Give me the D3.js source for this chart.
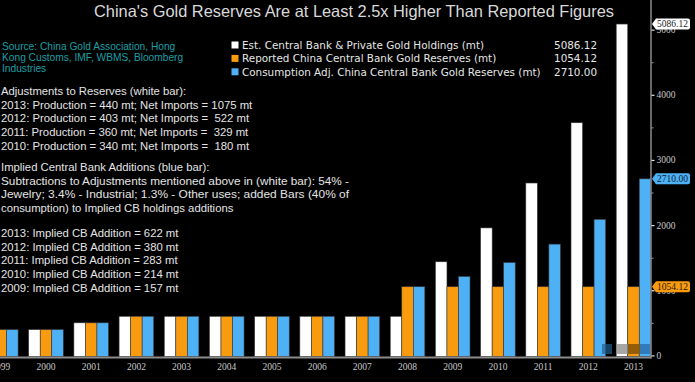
<!DOCTYPE html>
<html>
<head>
<meta charset="utf-8">
<script src="https://cdn.jsdelivr.net/npm/d3@7"></script>
<style>
  html, body { margin: 0; padding: 0; background: #000; }
  svg { display: block; }
  text { white-space: pre; }
</style>
</head>
<body>
<svg id="chart" width="695" height="382"></svg>
<script>
// ---------- DATA ----------
const years = ["1999","2000","2001","2002","2003","2004","2005","2006","2007","2008","2009","2010","2011","2012","2013"];
const estHoldings    = [395, 395, 500, 600, 600, 600, 600, 600, 600, 600, 1437, 1957, 2646, 3571, 5086.12];
const reportedRes    = [395, 395, 500, 600, 600, 600, 600, 600, 600, 1054.12, 1054.12, 1054.12, 1054.12, 1054.12, 1054.12];
const consumptionAdj = [395, 395, 500, 600, 600, 600, 600, 600, 600, 1054.12, 1211, 1425, 1708, 2088, 2710.00];
const seriesKeys   = ["est", "rep", "adj"];
const seriesNames  = ["Est. Central Bank & Private Gold Holdings (mt)",
                      "Reported China Central Bank Gold Reserves (mt)",
                      "Consumption Adj. China Central Bank Gold Reserves (mt)"];
const seriesLast   = ["5086.12", "1054.12", "2710.00"];
const yTicks = [0, 1000, 2000, 3000, 4000, 5000];
const yMinorTicks = [500, 1500, 2500, 3500, 4500];
const titleText = "China's Gold Reserves Are at Least 2.5x Higher Than Reported Figures";
const sourceLines = ["Source: China Gold Association, Hong", "Kong Customs, IMF, WBMS, Bloomberg", "Industries"];
const noteBlock1 = ["Adjustments to Reserves (white bar):",
  "2013: Production = 440 mt; Net Imports = 1075 mt",
  "2012: Production = 403 mt; Net Imports =  522 mt",
  "2011: Production = 360 mt; Net Imports =  329 mt",
  "2010: Production = 340 mt; Net Imports =  180 mt"];
const noteBlock2 = ["Implied Central Bank Additions (blue bar):",
  "Subtractions to Adjustments mentioned above in (white bar): 54% -",
  "Jewelry; 3.4% - Industrial; 1.3% - Other uses; added Bars (40% of",
  "consumption) to Implied CB holdings additions"];
const noteBlock3 = ["2013: Implied CB Addition = 622 mt",
  "2012: Implied CB Addition = 380 mt",
  "2011: Implied CB Addition = 283 mt",
  "2010: Implied CB Addition = 214 mt",
  "2009: Implied CB Addition = 157 mt"];

// ---------- STYLE ----------
const colors = { est: "#ffffff", rep: "#f89b0e", adj: "#4eb1f6" };
const tagText = { est: "#222", rep: "#2a1a00", adj: "#0a2035" };
const svg = d3.select("#chart");
svg.append("rect").attr("width", 695).attr("height", 382).attr("fill", "#000");

const rows = years.map((yr, i) => ({ year: yr, est: estHoldings[i], rep: reportedRes[i], adj: consumptionAdj[i] }));

// ---------- SCALES ----------
const axisX = 651;
const x = d3.scaleBand().domain(years).range([-21.8, 656.1]).padding(0);
const xs = d3.scaleBand().domain(seriesKeys).range([5.3, x.bandwidth() - 5.3]).padding(0);
const y = d3.scaleLinear().domain([0, 5000]).range([355.4, 29.65]);

// ---------- BARS ----------
const g = svg.append("g");
const groups = g.selectAll("g.grp").data(rows).join("g")
  .attr("class", "grp")
  .attr("transform", d => `translate(${x(d.year)},0)`);
groups.selectAll("rect").data(d => seriesKeys.map(k => ({ k, v: d[k] }))).join("rect")
  .attr("x", d => xs(d.k))
  .attr("width", xs.bandwidth())
  .attr("y", d => y(d.v))
  .attr("height", d => y(0) - y(d.v) + 1)
  .attr("fill", d => colors[d.k])
  .attr("stroke", "#3a3a3a")
  .attr("stroke-width", 0.6);

// bottom-right toolbar overlay (Bloomberg widgets)
const tb = svg.append("g");
tb.append("rect").attr("x", 602).attr("y", 344).attr("width", 10).attr("height", 10).attr("fill", "#1f5f8f").attr("opacity", 0.7);
tb.append("rect").attr("x", 616).attr("y", 344).attr("width", 12).attr("height", 10).attr("fill", "#8a8a8a").attr("opacity", 0.75);
tb.append("rect").attr("x", 628).attr("y", 344).attr("width", 12).attr("height", 10).attr("fill", "#8a5608").attr("opacity", 0.9);
tb.append("rect").attr("x", 640).attr("y", 344).attr("width", 10).attr("height", 10).attr("fill", "#2c75b5").attr("opacity", 0.9);

// ---------- AXES ----------
const xAxis = d3.axisBottom(x).tickSize(0).tickPadding(6);
const gx = svg.append("g").attr("transform", `translate(0,${357.5})`).call(xAxis);
gx.select(".domain").remove();
gx.selectAll("text").attr("fill", "#c8c8c8").attr("font-family", "Liberation Serif, serif").attr("font-size", 9.5);
svg.append("line").attr("x1", 0).attr("x2", axisX).attr("y1", 357.5).attr("y2", 357.5)
  .attr("stroke", "#8c8c8c").attr("stroke-width", 2);

svg.append("line").attr("x1", axisX).attr("x2", axisX).attr("y1", 0).attr("y2", 358.5)
  .attr("stroke", "#8c8c8c").attr("stroke-width", 1.5);
const yAxis = d3.axisRight(y).tickValues(yTicks).tickSize(3).tickPadding(2).tickFormat(d3.format("d"));
const gy = svg.append("g").attr("transform", `translate(${axisX + 0.5},0)`).call(yAxis);
gy.select(".domain").remove();
gy.selectAll("line").attr("stroke", "#e0e0e0").attr("stroke-width", 1.2);
gy.selectAll("text").attr("fill", "#c8c8c8").attr("font-family", "Liberation Serif, serif").attr("font-size", 9.5);
const yMinor = d3.axisRight(y).tickValues(yMinorTicks).tickSize(2).tickFormat("");
const gym = svg.append("g").attr("transform", `translate(${axisX + 0.5},0)`).call(yMinor);
gym.select(".domain").remove();
gym.selectAll("line").attr("stroke", "#9a9a9a");

// ---------- VALUE TAGS ----------
const tags = svg.append("g");
seriesKeys.forEach((k, i) => {
  const yc = y(+seriesLast[i]);
  const x0 = axisX + 1, w = 36, h = 11;
  const p = `M${x0},${yc} L${x0 + 4},${yc - h / 2} L${x0 + w},${yc - h / 2} Q${x0 + w + 2},${yc - h / 2} ${x0 + w + 2},${yc - h / 2 + 2} L${x0 + w + 2},${yc + h / 2 - 2} Q${x0 + w + 2},${yc + h / 2} ${x0 + w},${yc + h / 2} L${x0 + 4},${yc + h / 2} Z`;
  tags.append("path").attr("d", p).attr("fill", colors[k]);
  tags.append("text").attr("x", x0 + 5).attr("y", yc + 3.3)
    .attr("font-family", "Liberation Serif, serif").attr("font-size", 9.5)
    .attr("fill", tagText[k]).text(seriesLast[i]);
});

// ---------- TITLE ----------
svg.append("text").attr("x", 354).attr("y", 17).attr("text-anchor", "middle")
  .attr("font-family", "Liberation Sans, Arial, sans-serif").attr("font-size", 16.5)
  .attr("fill", "#d9d9d9").attr("textLength", 520).attr("lengthAdjust", "spacingAndGlyphs")
  .text(titleText);

// ---------- LEGEND ----------
const lg = svg.append("g");
seriesKeys.forEach((k, i) => {
  const yc = 45 + i * 13.4;
  lg.append("rect").attr("x", 231.5).attr("y", yc - 3.5).attr("width", 7).attr("height", 7).attr("fill", colors[k]);
  lg.append("text").attr("x", 242).attr("y", yc + 3.8)
    .attr("font-family", "DejaVu Sans, Verdana, sans-serif").attr("font-size", 10.4)
    .attr("fill", "#e6e6e6").text(seriesNames[i]);
  lg.append("text").attr("x", 597).attr("y", yc + 3.8).attr("text-anchor", "end")
    .attr("font-family", "DejaVu Sans, Verdana, sans-serif").attr("font-size", 10.4)
    .attr("fill", "#e6e6e6").text(seriesLast[i]);
});

// ---------- LEFT NOTES ----------
const notes = svg.append("g").attr("font-family", "Liberation Sans, Arial, sans-serif");
sourceLines.forEach((s, i) => {
  notes.append("text").attr("x", 2).attr("y", 50 + i * 11).attr("font-size", 10.2)
    .attr("fill", "#1b9fa6").text(s);
});
function block(lines, y0, widths) {
  lines.forEach((s, i) => {
    const t = notes.append("text").attr("x", 1).attr("y", y0 + i * 13.7).attr("font-size", 11.3)
      .attr("fill", "#e4e4e4").text(s);
    if (widths && widths[i]) t.attr("textLength", widths[i]).attr("lengthAdjust", "spacingAndGlyphs");
  });
}
block(noteBlock1, 95);
block(noteBlock2, 171, [null, 348, 348, null]);
block(noteBlock3, 237);
</script>
</body>
</html>
